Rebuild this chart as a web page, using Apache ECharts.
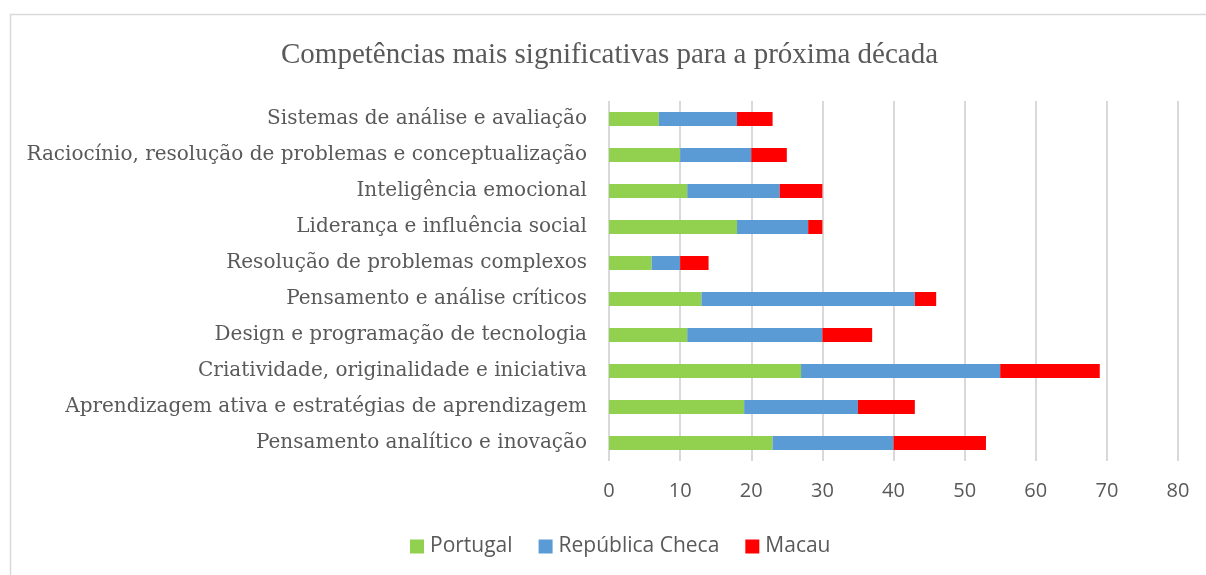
<!DOCTYPE html>
<html>
<head>
<meta charset="utf-8">
<script src="https://cdn.jsdelivr.net/npm/echarts@6/dist/echarts.min.js"></script>
<style>
  html, body { margin: 0; padding: 0; background: #fff; }
  #chart { width: 1206px; height: 575px; }
</style>
</head>
<body>
<div id="chart"></div>
<script>
// categorias, de cima para baixo
const categories = [
  'Sistemas de análise e avaliação',
  'Raciocínio, resolução de problemas e conceptualização',
  'Inteligência emocional',
  'Liderança e influência social',
  'Resolução de problemas complexos',
  'Pensamento e análise críticos',
  'Design e programação de tecnologia',
  'Criatividade, originalidade e iniciativa',
  'Aprendizagem ativa e estratégias de aprendizagem',
  'Pensamento analítico e inovação'
];
const portugal = [7, 10, 11, 18, 6, 13, 11, 27, 19, 23];
const republicaCheca = [11, 10, 13, 10, 4, 30, 19, 28, 16, 17];
const macau = [5, 5, 6, 2, 4, 3, 7, 14, 8, 13];
const xTicks = [0, 10, 20, 30, 40, 50, 60, 70, 80];

const textColor = '#595959';
const gridColor = '#d9d9d9';

const chart = echarts.init(document.getElementById('chart'));

function barSeries(name, data, color) {
  return {
    name: name,
    type: 'bar',
    stack: 'total',
    data: data,
    barWidth: 14,
    itemStyle: { color: color },
    emphasis: { disabled: true }
  };
}

chart.setOption({
  animation: false,
  title: {
    text: 'Competências mais significativas para a próxima década',
    left: 276,
    top: 36,
    textStyle: {
      fontFamily: 'Liberation Serif',
      fontSize: 29,
      fontWeight: 'normal',
      color: textColor
    }
  },
  graphic: [{
    type: 'rect',
    shape: { x: 10.5, y: 14.5, width: 1210, height: 600 },
    style: { fill: 'none', stroke: gridColor, lineWidth: 1.5 },
    silent: true
  }],
  legend: {
    top: 531,
    left: 405,
    itemWidth: 14,
    itemHeight: 14,
    itemGap: 26,
    icon: 'rect',
    textStyle: { fontFamily: 'Open Sans', fontSize: 21, color: textColor, padding: [0, 0, 0, 1] }
  },
  grid: {
    left: 609,
    right: 28,
    top: 101,
    height: 360
  },
  xAxis: {
    type: 'value',
    min: xTicks[0],
    max: xTicks[xTicks.length - 1],
    interval: 10,
    axisLine: { show: false },
    axisTick: { show: false },
    axisLabel: {
      margin: 20,
      fontFamily: 'Open Sans',
      fontSize: 20,
      color: textColor
    },
    splitLine: { lineStyle: { color: gridColor, width: 2 } }
  },
  yAxis: {
    type: 'category',
    data: categories,
    inverse: true,
    axisLine: { show: false },
    axisTick: { show: false },
    axisLabel: {
      margin: 22,
      fontFamily: 'DejaVu Serif',
      fontSize: 20,
      color: textColor
    }
  },
  series: [
    barSeries('Portugal', portugal, '#92d050'),
    barSeries('República Checa', republicaCheca, '#5b9bd5'),
    barSeries('Macau', macau, '#ff0000')
  ]
});
</script>
</body>
</html>
